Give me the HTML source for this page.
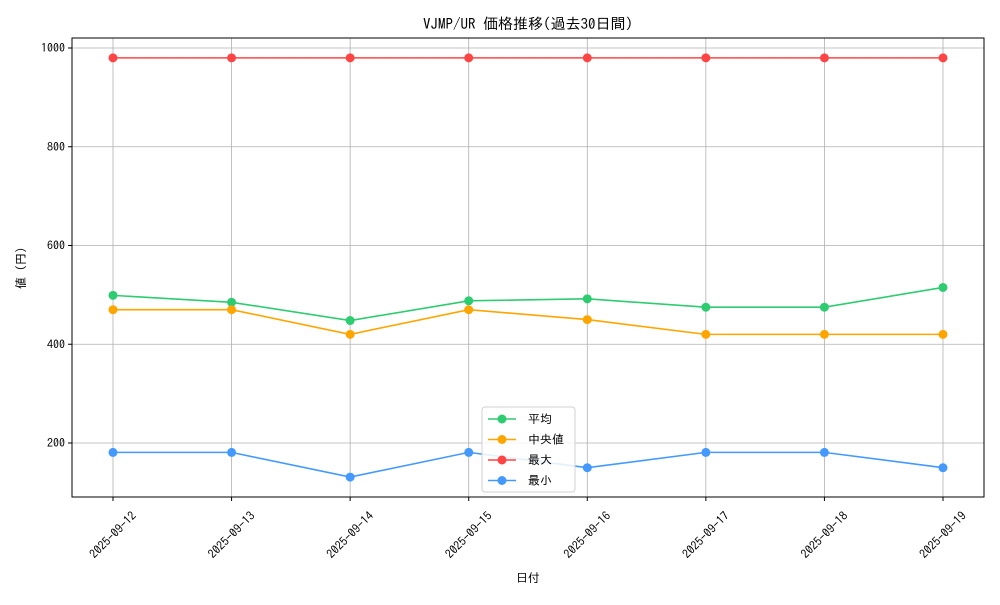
<!DOCTYPE html>
<html><head><meta charset="utf-8"><style>
body{margin:0;background:#fff;}
svg text{font-family:"IPAGothic","Liberation Sans","Noto Sans CJK JP",sans-serif;fill:#000;}
</style></head><body>
<svg id="c" width="1000" height="600">
<text x="528" y="29" font-size="15" text-anchor="middle">VJMP/UR 価格推移(過去30日間)</text>
<g id="grid"></g>
<rect x="72" y="38" width="912" height="459" fill="none" stroke="#000" stroke-width="1"/>
<g id="axes"></g>
<g id="series"></g>
<text x="528" y="582" font-size="12" text-anchor="middle">日付</text>
<text transform="translate(25,268) rotate(-90)" font-size="12" text-anchor="middle">値 (円)</text>
<g id="legend"></g>
</svg>
<script>
const categories=["2025-09-12","2025-09-13","2025-09-14","2025-09-15","2025-09-16","2025-09-17","2025-09-18","2025-09-19"];
const avgValues=[499,485,448,488,492,475,475,515];
const medianValues=[470,470,420,470,450,420,420,420];
const maxValues=[980,980,980,980,980,980,980,980];
const minValues=[181,181,131,181,150,181,181,150];
const yTicks=[200,400,600,800,1000];
const seriesNames=["平均","中央値","最大","最小"];
const colors=["#2ecc71","#ffa500","#ff4444","#4499ff"];
const NS="http://www.w3.org/2000/svg";
function X(i){return 113+i*(943-113)/(categories.length-1);}
function Y(v){return 443-(v-200)*(443-48)/800;}
function mk(tag,attrs,parent){const e=document.createElementNS(NS,tag);for(const k in attrs)e.setAttribute(k,attrs[k]);parent.appendChild(e);return e;}
const grid=document.getElementById('grid'),axes=document.getElementById('axes'),ser=document.getElementById('series'),leg=document.getElementById('legend');
categories.forEach((c,i)=>{
 const g=mk('line',{x1:X(i),x2:X(i),y1:38,y2:497,stroke:'#b0b0b0','stroke-width':0.8},grid);
 
 
 const t=mk('line',{x1:X(i),x2:X(i),y1:497,y2:501,stroke:'#000'},axes);
 
 
 const l=mk('text',{x:X(i),y:539,'font-size':12,'text-anchor':'middle',transform:`rotate(-45 ${X(i)} 535)`},axes);
 l.textContent=c;
 
 
});
yTicks.forEach(v=>{
 const g=mk('line',{x1:72,x2:984,y1:Y(v),y2:Y(v),stroke:'#b0b0b0','stroke-width':0.8},grid);
 
 
 const t=mk('line',{x1:68,x2:72,y1:Y(v),y2:Y(v),stroke:'#000'},axes);
 
 
 const l=mk('text',{x:65,y:Y(v)+4,'font-size':12,'text-anchor':'end'},axes);
 l.textContent=v;
 
 
});
[avgValues,medianValues,maxValues,minValues].forEach((vals,s)=>{
 const p=mk('polyline',{points:vals.map((v,i)=>X(i)+','+Y(v)).join(' '),fill:'none',stroke:colors[s],'stroke-width':1.6},ser);
 
 
 vals.forEach((v,i)=>{
  const c=mk('circle',{cx:X(i),cy:Y(v),r:4.5,fill:colors[s]},ser);
  
  
 });
});
const box=mk('rect',{x:482,y:407,width:93,height:85,fill:'#fff','fill-opacity':0.85,stroke:'#d0d0d0',rx:3},leg);


seriesNames.forEach((n,s)=>{
 const y=419+s*20.5;
 const l=mk('line',{x1:488,x2:516,y1:y,y2:y,stroke:colors[s],'stroke-width':1.6},leg);
 
 
 const c=mk('circle',{cx:502,cy:y,r:4.5,fill:colors[s]},leg);
 
 
 const t=mk('text',{x:528,y:y+4,'font-size':12},leg);
 t.textContent=n;
 
 
});
</script>
</body></html>
